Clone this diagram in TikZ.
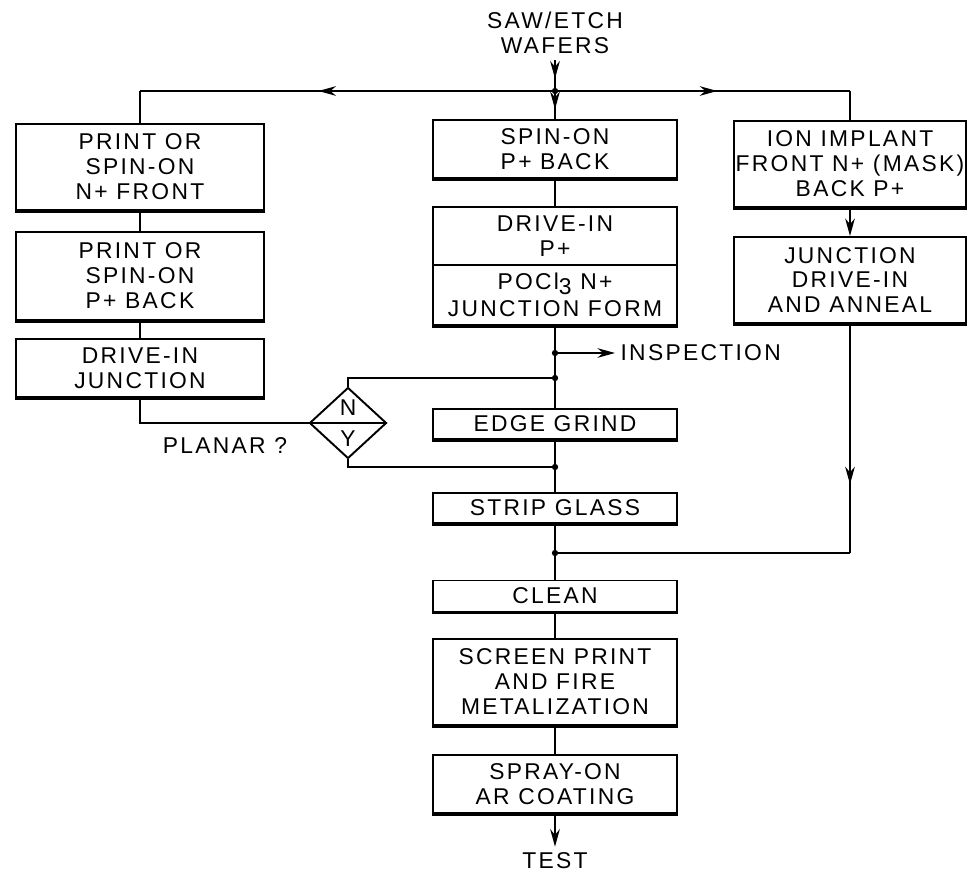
\documentclass[tikz,border=0pt]{standalone}
\usepackage{fontspec}
\newfontfamily\lrfont[LetterSpace=10]{Liberation Sans}
\usetikzlibrary{arrows.meta,shapes.geometric,decorations.markings}
\begin{document}
\begin{tikzpicture}[x=0.02cm,y=-0.02cm,
  every node/.style={font=\lrfont\fontsize{13}{14.2}\selectfont, align=center, text=black},
  flatbox/.style 2 args={draw, line width=1.1pt, inner sep=0pt,
    minimum width=#1*0.02cm, minimum height=#2*0.02cm},
  pbox/.style 2 args={flatbox={#1}{#2},
    append after command={(\tikzlastnode.south west) edge[draw, line width=2pt] (\tikzlastnode.south east)}},
  conn/.style={draw, line width=1pt},
  tipstyle/.tip={Stealth[length=10pt,width=5.5pt]},
  midarr/.style={postaction={decorate},
    decoration={markings, mark=at position #1 with {\arrow{tipstyle}}}},
  dot/.style={fill=black},
  decision/.style={diamond, draw, line width=1.1pt, inner sep=0pt,
    minimum width=77*0.02cm, minimum height=71*0.02cm}
]
\useasboundingbox (0,0) rectangle (968,872);

% top
\node (saw) at (555,33) {SAW/ETCH\\WAFERS};
\coordinate (split) at (555,91);

% left column
\node[pbox={248}{86}] (l1) at (140,167) {PRINT OR\\SPIN-ON\\N+ FRONT};
\node[pbox={248}{88}] (l2) at (140,276) {PRINT OR\\SPIN-ON\\P+ BACK};
\node[pbox={248}{58}] (l3) at (140,368) {DRIVE-IN\\JUNCTION};

% decision
\node[decision] (dm) at (348,423) {};
\node (nn) at (348,408) {N};
\node (ny) at (348,439) {Y};
\node (planar) at (225,446) {PLANAR ?};

% middle column
\node[pbox={244}{58}] (m1) at (555,149) {SPIN-ON\\P+ BACK};
\node[flatbox={244}{58}] (m2a) at (555,236) {DRIVE-IN\\P+};
\node[pbox={244}{60}] (m2b) at (555,295) {POCl\raisebox{-0.35ex}{3} N+\\[1pt]JUNCTION FORM};
\coordinate (insd) at (555,353);
\coordinate (nd) at (555,378);
\coordinate (yd) at (555,467);
\coordinate (jn) at (555,553);
\node[anchor=west, inner sep=3pt] (insp) at (615,353) {INSPECTION};
\node[pbox={244}{30}] (eg) at (555,424) {EDGE GRIND};
\node[pbox={244}{30}] (sg) at (555,508) {STRIP GLASS};
\node[pbox={244}{31}] (cl) at (555,596) {CLEAN};
\node[pbox={244}{86}] (sc) at (555,682) {SCREEN PRINT\\AND FIRE\\METALIZATION};
\node[pbox={244}{58}] (ar) at (555,784) {SPRAY-ON\\AR COATING};
\node (test) at (555,861) {TEST};

% right column
\node[pbox={232}{86}] (r1) at (850,164) {ION IMPLANT\\FRONT N+ (MASK)\\BACK P+};
\node[pbox={232}{86}] (r2) at (850,280) {JUNCTION\\DRIVE-IN\\AND ANNEAL};

% connectors
\draw[conn, midarr=0.6] (saw.south) -- (split);
\draw[conn, midarr=0.65] (split) -- (m1.north);
\draw[conn, midarr=0.57] (split) -- (split -| l1.north);
\draw[conn] (split -| l1.north) -- (l1.north);
\draw[conn, midarr=0.55] (split) -- (split -| r1.north);
\draw[conn] (split -| r1.north) -- (r1.north);

\draw[conn] (l1) -- (l2);
\draw[conn] (l2) -- (l3);
\draw[conn] (l3.south) |- (dm.west);
\draw[conn] (dm.west) -- (dm.east);
\draw[conn] (dm.north) |- (nd);
\draw[conn] (dm.south) |- (yd);

\draw[conn] (m1) -- (m2a);
\draw[conn] (m2b) -- (eg);
\draw[conn, -tipstyle] (insd) -- (insp.west);
\draw[conn] (eg) -- (sg);
\draw[conn] (sg) -- (cl);
\draw[conn] (cl) -- (sc);
\draw[conn] (sc) -- (ar);
\draw[conn, -tipstyle] (ar) -- (test);

\draw[conn, -tipstyle] (r1) -- (r2);
\draw[conn, midarr=0.7] (r2.south) -- (r2.south |- jn);
\draw[conn] (r2.south |- jn) -- (jn);

% junction dots
\fill[dot] (split) circle[radius=1.8pt];
\fill[dot] (insd) circle[radius=1.8pt];
\fill[dot] (nd) circle[radius=1.8pt];
\fill[dot] (yd) circle[radius=1.8pt];
\fill[dot] (jn) circle[radius=1.8pt];
\end{tikzpicture}
\end{document}
